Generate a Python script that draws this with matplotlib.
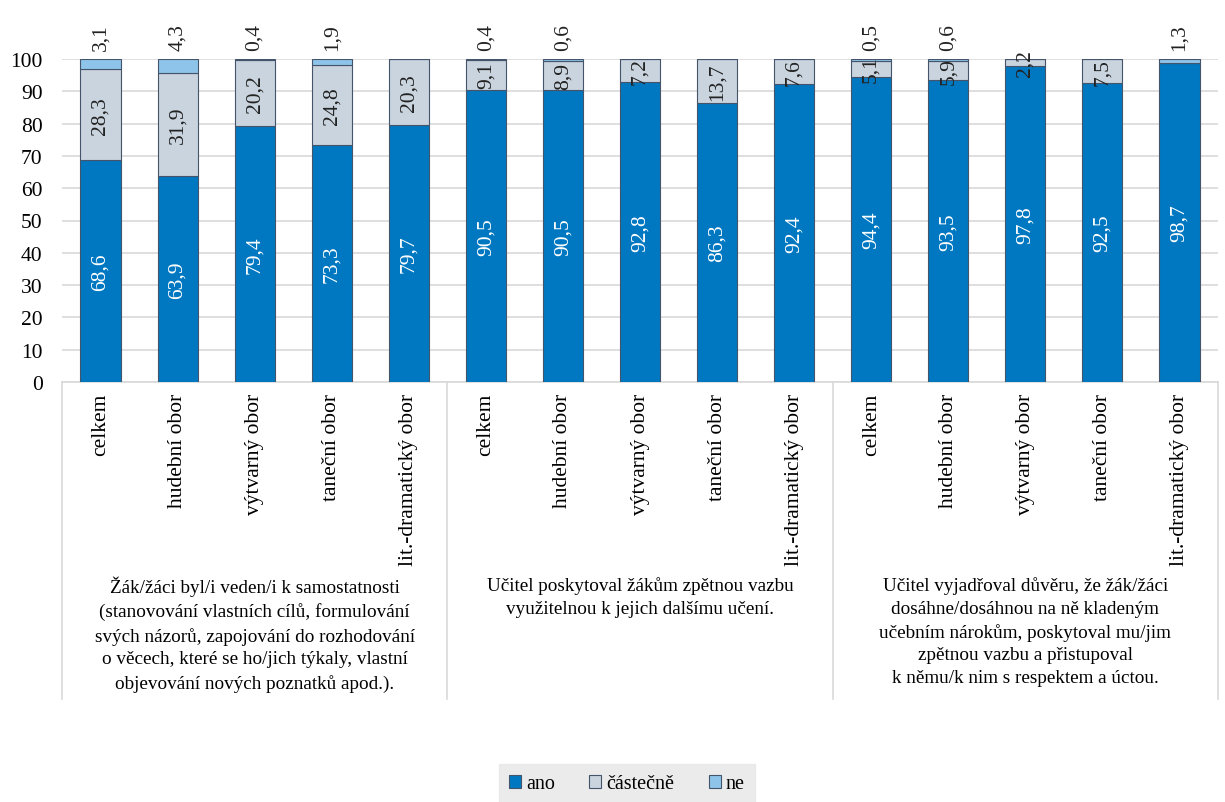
import matplotlib
matplotlib.use("Agg")
import matplotlib.pyplot as plt
import numpy as np

plt.rcParams['font.family'] = ['Liberation Serif', 'DejaVu Serif']

subcats = ["celkem", "hudební obor", "výtvarný obor", "taneční obor", "lit.-dramatický obor"]
groups = [
    "Žák/žáci byl/i veden/i k samostatnosti\n(stanovování vlastních cílů, formulování\nsvých názorů, zapojování do rozhodování\no věcech, které se ho/jich týkaly, vlastní\nobjevování nových poznatků apod.).",
    "Učitel poskytoval žákům zpětnou vazbu\nvyužitelnou k jejich dalšímu učení.",
    "Učitel vyjadřoval důvěru, že žák/žáci\ndosáhne/dosáhnou na ně kladeným\nučebním nárokům, poskytoval mu/jim\nzpětnou vazbu a přistupoval\nk němu/k nim s respektem a úctou.",
]
ano = [68.6, 63.9, 79.4, 73.3, 79.7, 90.5, 90.5, 92.8, 86.3, 92.4, 94.4, 93.5, 97.8, 92.5, 98.7]
castecne = [28.3, 31.9, 20.2, 24.8, 20.3, 9.1, 8.9, 7.2, 13.7, 7.6, 5.1, 5.9, 2.2, 7.5, 0.0]
ne = [3.1, 4.3, 0.4, 1.9, 0.0, 0.4, 0.6, 0.0, 0.0, 0.0, 0.5, 0.6, 0.0, 0.0, 1.3]

c_ano = "#0078c1"
c_cas = "#c9d4de"
c_ne = "#8ec4ea"
edge = "#44546a"
FAM = 'Liberation Serif'

def fmt(v):
    return f"{v:.1f}".replace(".", ",")

fig = plt.figure(figsize=(12.25, 8.03), dpi=100)
ax = fig.add_axes([62/1225, 1 - 383/803, (1218-62)/1225, (383-60)/803])

n = len(ano)
x = np.arange(n)
ano_a = np.array(ano); cas_a = np.array(castecne); ne_a = np.array(ne)
w = 0.52
ax.bar(x, ano_a, w, color=c_ano, edgecolor=edge, linewidth=0.8, label="ano", zorder=3)
ax.bar(x, cas_a, w, bottom=ano_a, color=c_cas, edgecolor=edge, linewidth=0.8, label="částečně", zorder=3)
ax.bar(x, ne_a, w, bottom=ano_a + cas_a, color=c_ne, edgecolor=edge, linewidth=0.8, label="ne", zorder=3)

fs = 15.5
fsg = 13.8
for i in range(n):
    ax.text(x[i], ano_a[i] / 2, fmt(ano_a[i]), rotation=90, ha='center', va='center',
            color='white', fontsize=fs, family=FAM, zorder=5)
    if cas_a[i] > 0:
        ax.text(x[i], ano_a[i] + cas_a[i] / 2, fmt(cas_a[i]), rotation=90, ha='center', va='center',
                color='#222222', fontsize=fs, family=FAM, zorder=5)
    if ne_a[i] > 0:
        ax.text(x[i], 102.8, fmt(ne_a[i]), rotation=90, ha='center', va='bottom',
                color='#222222', fontsize=fs, family=FAM, zorder=5, clip_on=False)

ax.set_xlim(-0.5, n - 0.5)
ax.set_ylim(0, 100)
ax.set_yticks(np.arange(0, 101, 10))
ax.tick_params(axis='y', length=0, labelsize=fs, pad=14)
for t in ax.get_yticklabels():
    t.set_family(FAM)
ax.set_xticks([])
ax.yaxis.grid(True, color='#d9d9d9', linewidth=1.2, zorder=0)
ax.set_axisbelow(True)
for s in ['top', 'right', 'left']:
    ax.spines[s].set_visible(False)
ax.spines['bottom'].set_color('#d9d9d9')
ax.spines['bottom'].set_linewidth(1.2)

# category labels
for i in range(n):
    ax.annotate(subcats[i % 5], xy=(x[i], 0), xycoords='data', xytext=(0, -8),
                textcoords='offset points', rotation=90, ha='center', va='top',
                fontsize=fs, family=FAM, annotation_clip=False)

# group separators
for b in [-0.5, 4.5, 9.5, 14.5]:
    ax.plot([b, b], [0, -98], color='#d9d9d9', linewidth=1.2, clip_on=False, zorder=1)

for g, lab in enumerate(groups):
    ax.text(g * 5 + 2, -60.0, lab, ha='center', va='top', fontsize=fsg, family=FAM,
            linespacing=1.45, clip_on=False)

leg = fig.legend(loc='center', bbox_to_anchor=(627/1225, 1 - 785/803), ncol=3,
                 frameon=True, prop={'family': FAM, 'size': 14.5}, handlelength=0.6, handleheight=0.6,
                 handletextpad=0.25, columnspacing=1.7, borderpad=0.5, borderaxespad=0)
leg.get_frame().set_facecolor('#e7e7e7')
leg.get_frame().set_edgecolor('#e7e7e7')
leg.get_frame().set_boxstyle('square', pad=0.0)
for h in leg.legend_handles:
    h.set_edgecolor(edge)
    h.set_linewidth(0.8)

fig.savefig("out.png", dpi=100, facecolor='white')
